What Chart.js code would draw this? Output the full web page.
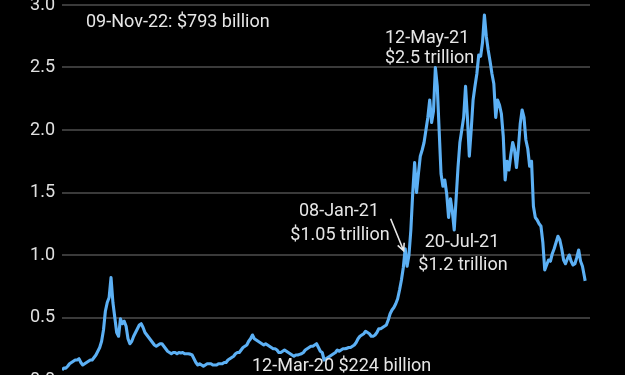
<!DOCTYPE html>
<html>
<head>
<meta charset="utf-8">
<script src="https://cdn.jsdelivr.net/npm/chart.js@4.4.1/dist/chart.umd.min.js"></script>
<style>
  html, body { margin: 0; padding: 0; background: #000; overflow: hidden; width: 625px; height: 375px; }
  #wrap { position: absolute; left: 0; top: -15px; width: 625px; height: 415px; }
</style>
</head>
<body>
<div id="wrap"><canvas id="c" width="625" height="415"></canvas></div>
<script>
// Total crypto market capitalisation, trillions USD, one value per week from startDate
const startDate = '2017-07-16';
const stepDays = 7;
const weeklyCap = [
  0.08,0.095,0.095,0.11,0.13,0.14,0.15,0.16,0.16,0.17,
  0.14,0.12,0.13,0.14,0.15,0.16,0.16,0.18,0.20,0.23,
  0.26,0.31,0.40,0.55,0.62,0.66,0.82,0.62,0.50,0.38,
  0.35,0.49,0.45,0.47,0.43,0.33,0.29,0.31,0.35,0.38,
  0.41,0.44,0.45,0.42,0.38,0.36,0.34,0.32,0.30,0.28,
  0.27,0.28,0.29,0.29,0.27,0.25,0.23,0.22,0.21,0.22,
  0.22,0.21,0.22,0.216,0.22,0.21,0.21,0.21,0.207,0.20,
  0.17,0.14,0.12,0.13,0.12,0.11,0.12,0.13,0.13,0.13,
  0.12,0.12,0.12,0.13,0.13,0.13,0.14,0.14,0.16,0.17,
  0.18,0.19,0.21,0.22,0.22,0.24,0.26,0.27,0.28,0.31,
  0.33,0.36,0.33,0.32,0.31,0.30,0.29,0.28,0.29,0.28,
  0.27,0.26,0.25,0.25,0.24,0.22,0.22,0.23,0.24,0.23,
  0.22,0.21,0.20,0.19,0.20,0.20,0.205,0.21,0.22,0.24,
  0.25,0.26,0.27,0.27,0.28,0.29,0.26,0.23,0.22,0.16,
  0.17,0.18,0.19,0.20,0.21,0.22,0.24,0.23,0.24,0.25,
  0.25,0.253,0.26,0.26,0.27,0.28,0.30,0.33,0.35,0.36,
  0.37,0.39,0.38,0.37,0.35,0.35,0.36,0.38,0.41,0.41,
  0.42,0.43,0.44,0.48,0.53,0.56,0.58,0.61,0.65,0.72,
  0.80,0.90,1.05,0.91,1.00,1.20,1.50,1.74,1.50,1.65,
  1.79,1.84,1.90,2.00,2.10,2.24,2.06,2.15,2.50,2.35,
  2.00,1.65,1.55,1.60,1.49,1.30,1.45,1.35,1.20,1.45,
  1.70,1.90,2.00,2.10,2.35,2.10,1.79,2.00,2.24,2.35,
  2.45,2.60,2.59,2.70,2.92,2.75,2.64,2.55,2.45,2.37,
  2.10,2.24,2.20,2.13,1.95,1.60,1.75,1.68,1.80,1.90,
  1.84,1.70,1.85,2.05,2.16,2.10,1.92,1.85,1.71,1.75,
  1.39,1.30,1.28,1.25,1.23,1.10,0.88,0.92,0.96,0.95,
  1.01,1.05,1.10,1.15,1.12,1.05,0.96,0.93,0.97,1.00,
  0.95,0.92,0.93,0.98,1.04,0.95,0.91,0.83
];
const lastDate = '2022-11-09';
const lastCap = 0.793;
const yTicks = [0.0, 0.5, 1.0, 1.5, 2.0, 2.5, 3.0];
const xMaxDays = 1960;

const DAY = 86400000;
const dayOf = d => (Date.parse(d) - Date.parse(startDate)) / DAY;

const points = weeklyCap.map((v, i) => ({ x: i * stepDays, y: v }));
points.push({ x: dayOf(lastDate), y: lastCap });

const FONT = 'Roboto, "Noto Sans", sans-serif';
const TXT = '#e6e6e6';

const annotations = {
  id: 'annot',
  afterDraw(chart) {
    const ctx = chart.ctx;
    const xs = chart.scales.x, ys = chart.scales.y;
    ctx.save();
    ctx.fillStyle = TXT;
    ctx.font = '18px ' + FONT;
    ctx.textBaseline = 'middle';
    const line = (t, x, y, align) => { ctx.textAlign = align; ctx.fillText(t, x, y + 15); };
    line('09-Nov-22: $793 billion', 86, 22, 'left');
    line('12-May-21', 385, 38.5, 'left');
    line('$2.5 trillion', 385, 58.5, 'left');
    line('08-Jan-21', 339, 211.5, 'center');
    line('$1.05 trillion', 340, 235, 'center');
    line('20-Jul-21', 462, 242, 'center');
    line('$1.2 trillion', 463, 265, 'center');
    line('12-Mar-20 $224 billion', 252, 366, 'left');
    // arrow pointing at 08-Jan-21
    const tx = xs.getPixelForValue(dayOf('2021-01-08')) - 1;
    const ty = ys.getPixelForValue(1.05) + 2;
    const sx = tx - 13, sy = ty - 32;
    ctx.strokeStyle = TXT;
    ctx.lineWidth = 1.6;
    ctx.beginPath();
    ctx.moveTo(sx, sy);
    ctx.lineTo(tx, ty);
    const ang = Math.atan2(ty - sy, tx - sx);
    const hl = 8;
    ctx.moveTo(tx - hl * Math.cos(ang - 0.45), ty - hl * Math.sin(ang - 0.45));
    ctx.lineTo(tx, ty);
    ctx.lineTo(tx - hl * Math.cos(ang + 0.45), ty - hl * Math.sin(ang + 0.45));
    ctx.stroke();
    ctx.restore();
  }
};

new Chart(document.getElementById('c'), {
  type: 'line',
  data: {
    datasets: [{
      data: points,
      borderColor: '#5cb0f4',
      borderWidth: 3.1,
      pointRadius: 0,
      tension: 0,
      borderJoinStyle: 'round',
      fill: false
    }]
  },
  options: {
    responsive: false,
    animation: false,
    devicePixelRatio: 1,
    layout: { padding: { top: 20, bottom: 20, left: 0, right: 35 } },
    plugins: { legend: { display: false }, tooltip: { enabled: false } },
    scales: {
      x: { type: 'linear', min: 0, max: xMaxDays, display: false },
      y: {
        min: 0, max: 3,
        afterBuildTicks: s => { s.ticks = yTicks.map(v => ({ value: v })); },
        afterFit: s => { s.width = 62; },
        border: { display: false },
        grid: { color: '#3a3a3a', lineWidth: 2, drawTicks: false },
        ticks: {
          color: '#e0e0e0',
          font: { family: FONT, size: 18 },
          padding: 7,
          callback: v => Number(v).toFixed(1)
        }
      }
    }
  },
  plugins: [annotations]
});
</script>
</body>
</html>
